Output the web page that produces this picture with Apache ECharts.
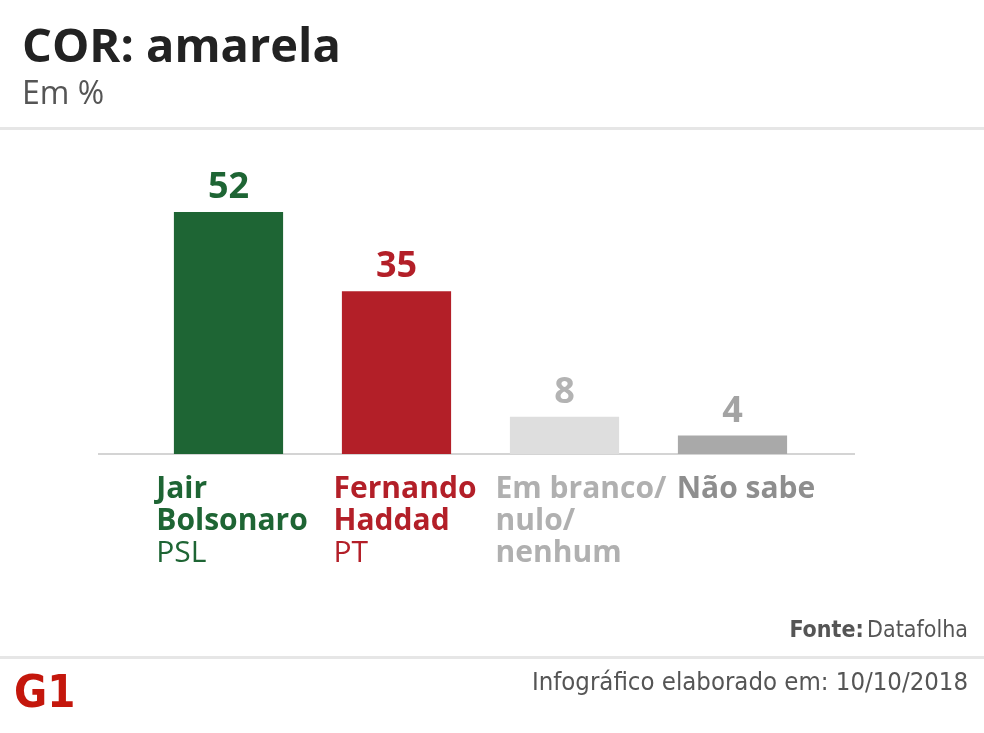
<!DOCTYPE html>
<html><head><meta charset="utf-8">
<script src="https://cdn.jsdelivr.net/npm/echarts@6/dist/echarts.min.js"></script>
<style>html,body{margin:0;padding:0;background:#fff}#c{width:984px;height:733px}</style>
</head><body><div id="c"></div>
<script>
const names = ['Jair\nBolsonaro', 'Fernando\nHaddad', 'Em branco/\nnulo/\nnenhum', 'Não sabe'];
const parties = ['PSL', 'PT', '', ''];
const values = [52, 35, 8, 4];
const barColors = ['#1e6534', '#b31f28', '#dedede', '#a9a9a9'];
const valueColors = ['#1e6534', '#b31f28', '#b3b3b3', '#a3a3a3'];
const nameColors = ['#1e6534', '#b31f28', '#b0b0b0', '#8e8e8e'];
const labelShift = [7, 17, 33, 27];

const rich = {};
names.forEach((n, i) => {
  rich['n' + i] = {fontFamily: 'Open Sans', fontWeight: 'bold', fontSize: 30, lineHeight: 32, color: nameColors[i], align: 'left'};
  rich['p' + i] = {fontFamily: 'Open Sans', fontWeight: 'normal', fontSize: 30, lineHeight: 32, color: nameColors[i], align: 'left'};
});
const condensed = "'DejaVu Sans Condensed', 'Roboto Condensed', Roboto, sans-serif";

const chart = echarts.init(document.getElementById('c'), null, {renderer: 'canvas'});
chart.setOption({
  animation: false,
  backgroundColor: '#fff',
  grid: {left: 144.5, right: 167.5, top: 174.8, bottom: 279},
  xAxis: {
    type: 'category',
    data: names.map((n, i) => ({value: n, textStyle: {padding: [0, 0, 0, labelShift[i]]}})),
    axisLine: {show: false},
    axisTick: {show: false},
    axisLabel: {
      interval: 0,
      margin: 19,
      formatter: function (v, i) {
        const lines = v.split('\n').map(s => '{n' + i + '|' + s + '}');
        if (parties[i]) lines.push('{p' + i + '|' + parties[i] + '}');
        return lines.join('\n');
      },
      rich: rich
    }
  },
  yAxis: {type: 'value', min: 0, max: 60, show: false, splitLine: {show: false}},
  series: [{
    type: 'bar',
    barWidth: '65%',
    data: values.map((v, i) => ({value: v, itemStyle: {color: barColors[i]}, label: {color: valueColors[i]}})),
    label: {show: true, position: 'top', distance: 6, fontFamily: 'Open Sans', fontWeight: 'bold', fontSize: 36}
  }],
  graphic: [
    {type: 'text', left: 22, top: 25, style: {text: 'COR: amarela', fontFamily: 'Open Sans', fontWeight: 'bold', fontSize: 47, fill: '#222'}},
    {type: 'text', left: 22, top: 79, style: {text: 'Em %', fontFamily: 'Open Sans', fontSize: 32, fill: '#555'}},
    {type: 'rect', shape: {x: 0, y: 127, width: 984, height: 3}, style: {fill: '#e6e6e6'}},
    {type: 'rect', shape: {x: 98, y: 453, width: 757, height: 2}, style: {fill: '#d4d4d4'}},
    {type: 'rect', shape: {x: 0, y: 656, width: 984, height: 3}, style: {fill: '#e6e6e6'}},
    {type: 'text', right: 16, top: 620, style: {text: '{b|Fonte:} {r|Datafolha}', rich: {
      b: {fontFamily: condensed, fontWeight: 'bold', fontSize: 23, fill: '#555'},
      r: {fontFamily: condensed, fontSize: 23, fill: '#555'}}}},
    {type: 'text', right: 16, top: 670, style: {text: 'Infográfico elaborado em: 10/10/2018', fontFamily: condensed, fontSize: 25.5, fill: '#555'}},
    {type: 'text', left: 14, top: 673, style: {text: 'G1', fontFamily: condensed, fontWeight: 'bold', fontSize: 45, fill: '#c4170c'}}
  ]
});
</script></body></html>
